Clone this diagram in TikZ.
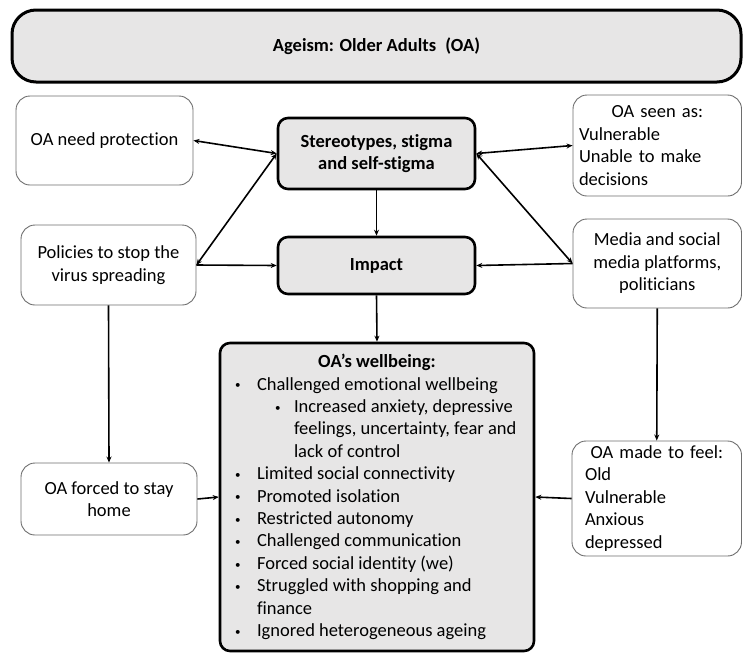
\documentclass[tikz,border=0pt]{standalone}
\usepackage{fontspec}
\setmainfont{Carlito}[Ligatures=NoCommon]
\usepackage{xcolor}
\usetikzlibrary{arrows.meta}

\definecolor{boxgray}{RGB}{231,230,230}
\definecolor{edgegray}{RGB}{110,110,110}

\newcommand{\wbdot}{\raisebox{1.2pt}{\fontsize{11}{11}\selectfont\textbullet}}
\newcommand{\wbpoint}[1]{\makebox[22pt][l]{\wbdot}#1}
\newcommand{\wbsub}[1]{\hspace*{40pt}\makebox[19pt][l]{\wbdot}#1}
\newcommand{\wbmore}[2]{\hspace*{#1}#2}

\tikzset{
  plainbox/.style={draw=edgegray, line width=0.9pt, rounded corners=14pt, fill=white,
    inner sep=0pt, align=center, font=\fontsize{18.5}{22.5}\selectfont},
  keybox/.style={draw=black, line width=2.6pt, rounded corners=10pt, fill=boxgray,
    inner sep=0pt, align=center, font=\bfseries\fontsize{18.5}{22.5}\selectfont},
  link/.style={-{Stealth[length=6pt,width=5pt]}, line width=1.6pt},
  twoway/.style={{Stealth[length=6pt,width=5pt]}-{Stealth[length=6pt,width=5pt]}, line width=1.6pt},
}

\begin{document}
\begin{tikzpicture}[x=1pt,y=-1pt]
    \useasboundingbox (0,0) rectangle (743,654);

    % banner
    \node[keybox, line width=3pt, rounded corners=24pt, minimum width=729pt, minimum height=72pt] (banner) at (376.5,46) {Ageism: Older Adults\enspace(OA)};

    % centre column
    \node[keybox, minimum width=197pt, minimum height=71pt] (stereo) at (376.5,153.5) {Stereotypes, stigma\\and self-stigma};
    \node[keybox, minimum width=197pt, minimum height=57pt] (impact) at (376.5,265.5) {Impact};
    \node[keybox, font=\fontsize{18.5}{22.4}\selectfont, align=left, minimum width=314pt, minimum height=308pt] (well) at (377,497) {%
        \makebox[284pt]{\bfseries OA’s wellbeing:}\\
        \wbpoint{Challenged emotional wellbeing}\\
        \wbsub{Increased anxiety, depressive}\\
        \wbmore{59pt}{feelings, uncertainty, fear and}\\
        \wbmore{59pt}{lack of control}\\
        \wbpoint{Limited social connectivity}\\
        \wbpoint{Promoted isolation}\\
        \wbpoint{Restricted autonomy}\\
        \wbpoint{Challenged communication}\\
        \wbpoint{Forced social identity (we)}\\
        \wbpoint{Struggled with shopping and}\\
        \wbmore{22pt}{finance}\\
        \wbpoint{Ignored heterogeneous ageing}};

    % left column
    \node[plainbox, minimum width=177pt, minimum height=89pt] (protect) at (104.5,140.5) {OA need protection};
    \node[plainbox, minimum width=175pt, minimum height=80pt] (policies) at (108.5,265) {Policies to stop the\\virus spreading};
    \node[plainbox, minimum width=176pt, minimum height=72pt] (forced) at (109,499) {OA forced to stay\\home};

    % right column
    \node[plainbox, align=left, inner xsep=6pt, text width=156.5pt, minimum height=101pt] (seen) at (657.25,145.5) {%
        \makebox[156.5pt]{OA seen as:}\\ Vulnerable\\ Unable to make\\ decisions};
    \node[plainbox, minimum width=168.5pt, minimum height=89pt] (media) at (657.25,263.5) {Media and social\\media platforms,\\politicians};
    \node[plainbox, align=left, inner xsep=13pt, text width=143.5pt, minimum height=115pt] (feel) at (656.75,498.5) {%
        \makebox[143.5pt]{OA made to feel:}\\ Old\\ Vulnerable\\ Anxious\\ depressed};

    % connectors
    \draw[twoway] (protect.east) -- (stereo.west);
    \draw[twoway] (policies.east) -- (stereo.west);
    \draw[link] (policies.east) -- (impact.west);
    \draw[twoway] (stereo.east) -- (seen.west);
    \draw[twoway] (stereo.east) -- (media.west);
    \draw[link] (media.west) -- (impact.east);
    \draw[link] (stereo.south) -- (impact.north);
    \draw[link] (impact.south) -- (well.north);
    \draw[link] (policies.south) -- (forced.north);
    \draw[link] (media.south) -- (feel.north);
    \draw[link] (forced.east) -- (well.west);
    \draw[link] (feel.west) -- (well.east);
\end{tikzpicture}
\end{document}
